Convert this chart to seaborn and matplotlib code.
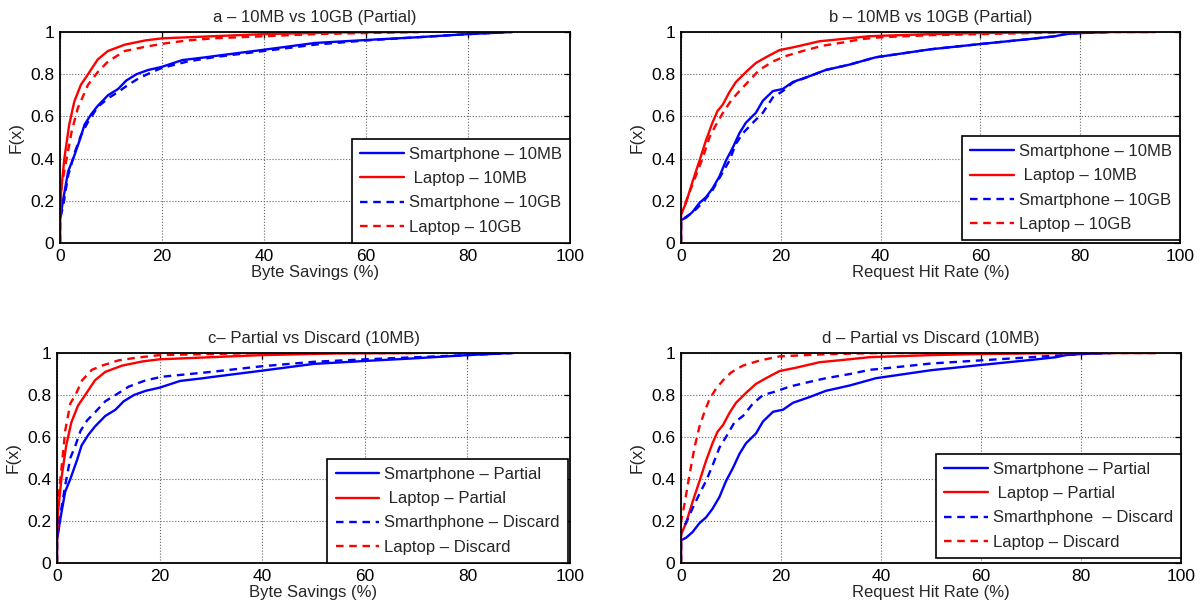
import matplotlib
matplotlib.use("Agg")
import matplotlib.pyplot as plt
import seaborn as sns

# ---- Byte savings CDFs (x in %, F(x)) ----
laptop_partial_byte_x = [0, 0, 0.2, 0.85, 1.8, 2.8, 4.1, 5.5, 7.4, 9.4, 12.7, 16.7, 20, 30, 40, 55, 70.4]
laptop_partial_byte_F = [0, 0.10, 0.24, 0.40, 0.56, 0.67, 0.75, 0.80, 0.87, 0.91, 0.94, 0.96, 0.97, 0.98, 0.99, 0.998, 1.0]

laptop_10gb_byte_x = [0, 0, 0.3, 1.3, 2.3, 3.5, 5.5, 7.4, 9.4, 12.7, 16.7, 20.6, 25, 30, 40, 50, 60, 70.4]
laptop_10gb_byte_F = [0, 0.10, 0.27, 0.40, 0.53, 0.64, 0.75, 0.81, 0.86, 0.91, 0.93, 0.946, 0.96, 0.97, 0.98, 0.99, 0.995, 1.0]

smart_partial_byte_x = [0, 0, 0.65, 1.6, 2.6, 3.9, 4.8, 6.1, 7.4, 9.4, 11.4, 13, 15, 17.3, 20, 24, 28.5,
                        30, 40, 50, 60, 70, 80, 88.7]
smart_partial_byte_F = [0, 0.11, 0.21, 0.34, 0.40, 0.49, 0.56, 0.61, 0.65, 0.70, 0.73, 0.77, 0.80, 0.82, 0.835,
                        0.867, 0.88, 0.885, 0.916, 0.948, 0.962, 0.975, 0.99, 1.0]

smart_10gb_byte_x = [0, 0, 0.65, 1.6, 2.9, 4.1, 5.4, 7.4, 9.4, 11.4, 13.4, 15.4, 18, 20, 25, 30, 40, 50, 60, 70, 80, 88.7]
smart_10gb_byte_F = [0, 0.11, 0.18, 0.32, 0.43, 0.51, 0.57, 0.645, 0.685, 0.716, 0.75, 0.78, 0.81, 0.83, 0.86,
                     0.88, 0.91, 0.94, 0.96, 0.975, 0.99, 1.0]

laptop_discard_byte_x = [0, 0, 0.3, 1, 1.6, 2.6, 3.6, 4.9, 6.8, 8.8, 12, 15.3, 20, 30, 40, 70.4]
laptop_discard_byte_F = [0, 0.25, 0.32, 0.48, 0.63, 0.76, 0.80, 0.87, 0.92, 0.94, 0.965, 0.977, 0.99, 0.995, 1.0, 1.0]

smart_discard_byte_x = [0, 0, 0.65, 1.6, 2.6, 3.6, 4.6, 5.9, 7.5, 9.4, 11.4, 14, 17.3, 20.5, 30, 40, 50, 60, 70, 80, 89]
smart_discard_byte_F = [0, 0.11, 0.23, 0.37, 0.50, 0.56, 0.63, 0.68, 0.72, 0.77, 0.80, 0.84, 0.87, 0.887, 0.91,
                        0.937, 0.958, 0.97, 0.98, 0.99, 1.0]

# ---- Request hit rate CDFs ----
laptop_partial_req_x = [0, 0, 1, 2.3, 3.7, 5, 6.3, 7.3, 8.4, 9.7, 11, 13, 15, 17, 19.7, 23, 27.7, 32.4, 37.7,
                        40, 50, 60, 70, 80, 95]
laptop_partial_req_F = [0, 0.135, 0.19, 0.29, 0.39, 0.486, 0.57, 0.625, 0.657, 0.715, 0.763, 0.81, 0.853, 0.88,
                        0.914, 0.93, 0.956, 0.967, 0.98, 0.982, 0.99, 0.995, 0.998, 1.0, 1.0]

laptop_10gb_req_x = [0, 0, 1.7, 3, 4.3, 5.7, 7, 8.4, 10, 11.7, 13.7, 15.7, 18.4, 21, 24.4, 28.4, 32.4, 36.4,
                     40, 50, 60, 70, 80, 95]
laptop_10gb_req_F = [0, 0.135, 0.24, 0.32, 0.40, 0.50, 0.56, 0.617, 0.674, 0.72, 0.77, 0.82, 0.86, 0.886, 0.91,
                     0.935, 0.95, 0.967, 0.975, 0.985, 0.99, 0.995, 1.0, 1.0]

smart_partial_req_x = [0, 0, 1, 2.3, 3.7, 5, 6.3, 7.7, 9, 10.4, 11.7, 13, 15, 16.4, 18.4, 20.4, 22.4, 25.7, 29,
                       33.7, 39, 50, 60, 70, 75, 77, 80, 86]
smart_partial_req_F = [0, 0.108, 0.12, 0.147, 0.19, 0.217, 0.258, 0.315, 0.39, 0.453, 0.52, 0.57, 0.617, 0.674,
                       0.72, 0.73, 0.763, 0.79, 0.82, 0.845, 0.88, 0.918, 0.943, 0.967, 0.98, 0.99, 0.995, 1.0]

smart_10gb_req_x = [0, 0, 2.3, 4.3, 6.3, 8, 9.7, 11, 12.4, 14.4, 16.4, 18.4, 20.4, 22.4, 25.7, 29, 33.7, 39,
                    50, 60, 70, 75, 77, 80, 86]
smart_10gb_req_F = [0, 0.108, 0.144, 0.19, 0.25, 0.32, 0.39, 0.47, 0.52, 0.57, 0.617, 0.69, 0.72, 0.76, 0.79,
                    0.82, 0.845, 0.88, 0.918, 0.943, 0.967, 0.98, 0.99, 0.995, 1.0]

laptop_discard_req_x = [0, 0, 0.7, 1.7, 2.7, 3.7, 4.7, 5.7, 7, 8.4, 10, 12.4, 15.7, 19.7, 25, 30, 40, 95]
laptop_discard_req_F = [0, 0.196, 0.28, 0.42, 0.55, 0.65, 0.72, 0.78, 0.83, 0.87, 0.907, 0.94, 0.964, 0.984,
                        0.99, 0.995, 1.0, 1.0]

smart_discard_req_x = [0, 0, 1, 2.3, 3.7, 5, 6.4, 7.7, 9, 10.7, 12.4, 14.4, 16.4, 19, 21.7, 25.8, 29, 33.8,
                       37.8, 40, 50, 60, 70, 80, 86]
smart_discard_req_F = [0, 0.163, 0.19, 0.26, 0.33, 0.39, 0.47, 0.55, 0.60, 0.67, 0.70, 0.76, 0.80, 0.817, 0.84,
                       0.863, 0.88, 0.90, 0.92, 0.925, 0.95, 0.965, 0.98, 0.995, 1.0]

titles = ["a \u2013 10MB vs 10GB (Partial)", "b \u2013 10MB vs 10GB (Partial)",
          "c\u2013 Partial vs Discard (10MB)", "d \u2013 Partial vs Discard (10MB)"]
xlabels = ["Byte Savings (%)", "Request Hit Rate (%)", "Byte Savings (%)", "Request Hit Rate (%)"]
x_ticks = [0, 20, 40, 60, 80, 100]
y_ticks = [0, 0.2, 0.4, 0.6, 0.8, 1]
y_ticklabels = ["0", "0.2", "0.4", "0.6", "0.8", "1"]

legend_10mb_10gb = ["Smartphone \u2013 10MB", " Laptop \u2013 10MB", "Smartphone \u2013 10GB", "Laptop \u2013 10GB"]
legend_c = ["Smartphone \u2013 Partial", " Laptop \u2013 Partial", "Smarthphone \u2013 Discard", "Laptop \u2013 Discard"]
legend_d = ["Smartphone \u2013 Partial", " Laptop \u2013 Partial", "Smarthphone  \u2013 Discard", "Laptop \u2013 Discard"]

panels = [
    (titles[0], xlabels[0], legend_10mb_10gb,
     [(smart_partial_byte_x, smart_partial_byte_F), (laptop_partial_byte_x, laptop_partial_byte_F),
      (smart_10gb_byte_x, smart_10gb_byte_F), (laptop_10gb_byte_x, laptop_10gb_byte_F)]),
    (titles[1], xlabels[1], legend_10mb_10gb,
     [(smart_partial_req_x, smart_partial_req_F), (laptop_partial_req_x, laptop_partial_req_F),
      (smart_10gb_req_x, smart_10gb_req_F), (laptop_10gb_req_x, laptop_10gb_req_F)]),
    (titles[2], xlabels[2], legend_c,
     [(smart_partial_byte_x, smart_partial_byte_F), (laptop_partial_byte_x, laptop_partial_byte_F),
      (smart_discard_byte_x, smart_discard_byte_F), (laptop_discard_byte_x, laptop_discard_byte_F)]),
    (titles[3], xlabels[3], legend_d,
     [(smart_partial_req_x, smart_partial_req_F), (laptop_partial_req_x, laptop_partial_req_F),
      (smart_discard_req_x, smart_discard_req_F), (laptop_discard_req_x, laptop_discard_req_F)]),
]

sns.set_theme(style="white")
plt.rcParams["font.family"] = ["Liberation Sans", "DejaVu Sans"]
plt.rcParams["lines.dashed_pattern"] = [3.2, 2.4]
plt.rcParams["axes.unicode_minus"] = False

colors = ["#0000ff", "#ff0000", "#0000ff", "#ff0000"]
styles = ["-", "-", "--", "--"]

fig = plt.figure(figsize=(12.04, 6.11), dpi=100)
rects = [
    [60 / 1204, 1 - 243 / 611, 510 / 1204, 211 / 611],
    [681 / 1204, 1 - 243 / 611, 499 / 1204, 211 / 611],
    [57 / 1204, 1 - 563 / 611, 513 / 1204, 210 / 611],
    [681 / 1204, 1 - 563 / 611, 500 / 1204, 210 / 611],
]
legend_anchor = [(1.0, 0.0), (1.0, 0.014), (0.996, 0.0), (1.0, 0.024)]

for rect, (title, xlabel, labels, series), anchor in zip(rects, panels, legend_anchor):
    ax = fig.add_axes(rect)
    for (xs, fs), c, ls, lab in zip(series, colors, styles, labels):
        sns.lineplot(x=xs, y=fs, ax=ax, color=c, linestyle=ls, linewidth=1.7,
                     sort=False, estimator=None, label=lab)
    ax.set_xlim(0, 100)
    ax.set_ylim(0, 1)
    ax.set_xticks(x_ticks)
    ax.set_xticklabels([str(t) for t in x_ticks])
    ax.set_yticks(y_ticks)
    ax.set_yticklabels(y_ticklabels)
    ax.grid(True, linestyle=":", color="0.4", linewidth=0.8)
    ax.tick_params(direction="in", top=True, right=True, length=4, width=0.9,
                   labelsize=12.5, colors="black", pad=4)
    for sp in ax.spines.values():
        sp.set_color("black")
        sp.set_linewidth(1.3)
    ax.set_title(title, fontsize=12, pad=7)
    ax.set_xlabel(xlabel, fontsize=12, labelpad=1)
    ax.set_ylabel("F(x)", fontsize=12.5, labelpad=5)
    leg = ax.legend(loc="lower right", bbox_to_anchor=anchor, fontsize=12, frameon=True,
                    fancybox=False, framealpha=1, edgecolor="black", borderaxespad=0,
                    handlelength=2.6, handletextpad=0.3, labelspacing=0.55, borderpad=0.5)
    leg.get_frame().set_linewidth(1.2)

fig.savefig("out.png", dpi=100, facecolor="white")
